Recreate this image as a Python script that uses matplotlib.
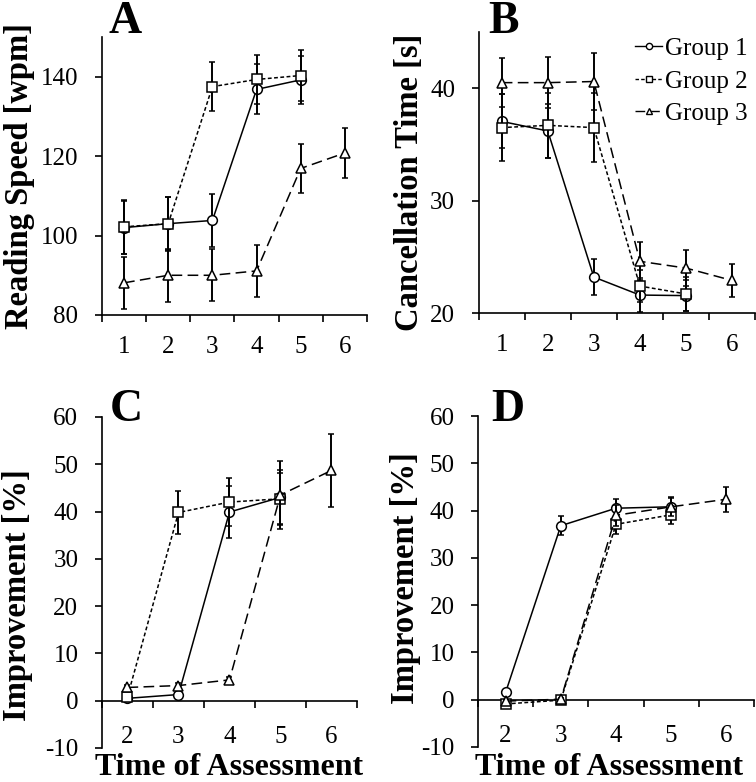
import matplotlib
matplotlib.use('Agg')
import matplotlib.pyplot as plt
from matplotlib.lines import Line2D

plt.rcParams['font.family'] = ['Liberation Serif', 'DejaVu Serif']

groups = ['Group 1', 'Group 2', 'Group 3']

# A: reading speed [wpm], sessions 1-6
a_x = [[1, 2, 3, 4, 5], [1, 2, 3, 4, 5], [1, 2, 3, 4, 5, 6]]
a_y = [[102.0, 103.0, 103.8, 136.8, 139.2],
       [102.2, 103.0, 137.5, 139.3, 140.3],
       [88.1, 90.0, 90.0, 91.1, 116.9, 120.8]]
a_err = [[6.7, 6.6, 6.7, 6.3, 6.1],
         [6.8, 6.8, 6.1, 6.2, 6.3],
         [6.6, 6.7, 6.6, 6.6, 6.2, 6.3]]

# B: cancellation time [s]
b_x = [[1, 2, 3, 4, 5], [1, 2, 3, 4, 5], [1, 2, 3, 4, 5, 6]]
b_y = [[37.05, 36.2, 23.2, 21.6, 21.55],
       [36.5, 36.7, 36.5, 22.4, 21.7],
       [40.5, 40.5, 40.6, 24.6, 24.0, 22.9]]
b_err = [[2.4, 2.4, 1.6, 1.5, 1.4],
         [3.0, 2.9, 3.1, 1.4, 1.5],
         [2.2, 2.3, 2.5, 1.7, 1.6, 1.5]]

# C: improvement [%] of reading speed, sessions 2-6
c_x = [[2, 3, 4, 5], [2, 3, 4, 5], [2, 3, 4, 5, 6]]
c_y = [[0.5, 1.3, 39.9, 43.0],
       [0.85, 39.8, 42.0, 42.7],
       [2.8, 3.2, 4.4, 43.5, 48.7]]
c_err = [[0.3, 0.3, 5.4, 5.8],
         [0.4, 4.6, 5.0, 5.4],
         [0.6, 0.5, 0.6, 7.2, 7.8]]

# D: improvement [%] of cancellation time
d_x = [[2, 3, 4, 5], [2, 3, 4, 5], [2, 3, 4, 5, 6]]
d_y = [[1.55, 36.8, 40.5, 40.8],
       [-0.9, -0.1, 37.1, 39.1],
       [-0.3, 0.1, 39.0, 40.8, 42.4]]
d_err = [[0.5, 2.0, 1.9, 1.8],
         [0.3, 0.3, 2.0, 1.9],
         [0.3, 0.3, 2.2, 2.0, 2.6]]

markers = ['o', 's', '^']
linestyles = ['-', (0, (2.5, 1.6)), (0, (7, 3.5))]


def draw(ax, xs, ys, errs, first, last, ylim, yticks, letter, ylabel, lab_pos, let_pos,
         xpad=15, xlabel=None, xlab_pos=None):
    for i in range(3):
        ax.errorbar(xs[i], ys[i], yerr=errs[i], color='black', lw=1.1, ls=linestyles[i],
                    marker=markers[i], ms=7, mfc='white', mec='black', mew=1.1,
                    capsize=2, elinewidth=1.4, capthick=1.1, zorder=3 + i)
    ax.set_xlim(first - 0.5, last + 0.5)
    ax.set_ylim(*ylim)
    ax.set_yticks(yticks)
    ax.set_yticklabels([str(t) for t in yticks])
    cats = list(range(first, last + 1))
    ax.set_xticks([c - 0.5 for c in cats] + [last + 0.5])
    ax.set_xticklabels([])
    ax.set_xticks(cats, minor=True)
    ax.set_xticklabels([str(c) for c in cats], minor=True)
    ax.spines['top'].set_visible(False)
    ax.spines['right'].set_visible(False)
    for s in ['left', 'bottom']:
        ax.spines[s].set_linewidth(1.2)
    ax.tick_params(axis='both', which='major', direction='out', length=5, width=1.2)
    ax.tick_params(axis='y', labelsize=18, pad=12)
    ax.tick_params(axis='x', which='minor', length=0, labelsize=18, pad=xpad)
    ax.set_ylabel(ylabel, fontsize=23.5, fontweight='bold', va='center')
    ax.yaxis.set_label_coords(*lab_pos)
    ax.text(let_pos[0], let_pos[1], letter, transform=ax.transAxes, fontsize=33,
            fontweight='bold', ha='left', va='baseline')
    if xlabel:
        ax.set_xlabel(xlabel, fontsize=23, fontweight='bold', va='baseline')
        ax.xaxis.set_label_coords(*xlab_pos)


fig = plt.figure(figsize=(7.56, 7.82), dpi=100)
axA = fig.add_axes([0.1349, 0.5972, 0.3505, 0.3555])
axB = fig.add_axes([0.6332, 0.5997, 0.3655, 0.3593])
axC = fig.add_axes([0.1349, 0.0435, 0.3373, 0.4233])
axD = fig.add_axes([0.6323, 0.0448, 0.3651, 0.4232])

draw(axA, a_x, a_y, a_err, 1, 6, (80, 150), [80, 100, 120, 140], 'A',
     'Reading Speed [wpm]', (-0.313, 0.5), (0.023, 1.014))
draw(axB, b_x, b_y, b_err, 1, 6, (20, 45), [20, 30, 40], 'B',
     'Cancellation Time [s]', (-0.249, 0.464), (0.034, 0.996))
draw(axC, c_x, c_y, c_err, 2, 6, (-10, 60), list(range(-10, 61, 10)), 'C',
     'Improvement [%]', (-0.333, 0.462), (0.031, 0.988), 18,
     'Time of Assessment', (0.5, -0.0816))
draw(axD, d_x, d_y, d_err, 2, 6, (-10, 60), list(range(-10, 61, 10)), 'D',
     'Improvement [%]', (-0.264, 0.509), (0.047, 0.985), 18,
     'Time of Assessment', (0.475, -0.0846))

for ax in (axC, axD):
    ax.spines['bottom'].set_position(('data', 0))

handles = [Line2D([], [], color='black', lw=1.0, ls=linestyles[i], marker=markers[i],
                  ms=4.5, mfc='white', mec='black', mew=1.0) for i in range(3)]
axB.legend(handles, groups, loc='upper left', bbox_to_anchor=(0.565, 0.98), frameon=False,
           fontsize=18, handlelength=1.1, handletextpad=0.1, labelspacing=0.4,
           borderpad=0, borderaxespad=0)

fig.savefig('out.png', dpi=100)
